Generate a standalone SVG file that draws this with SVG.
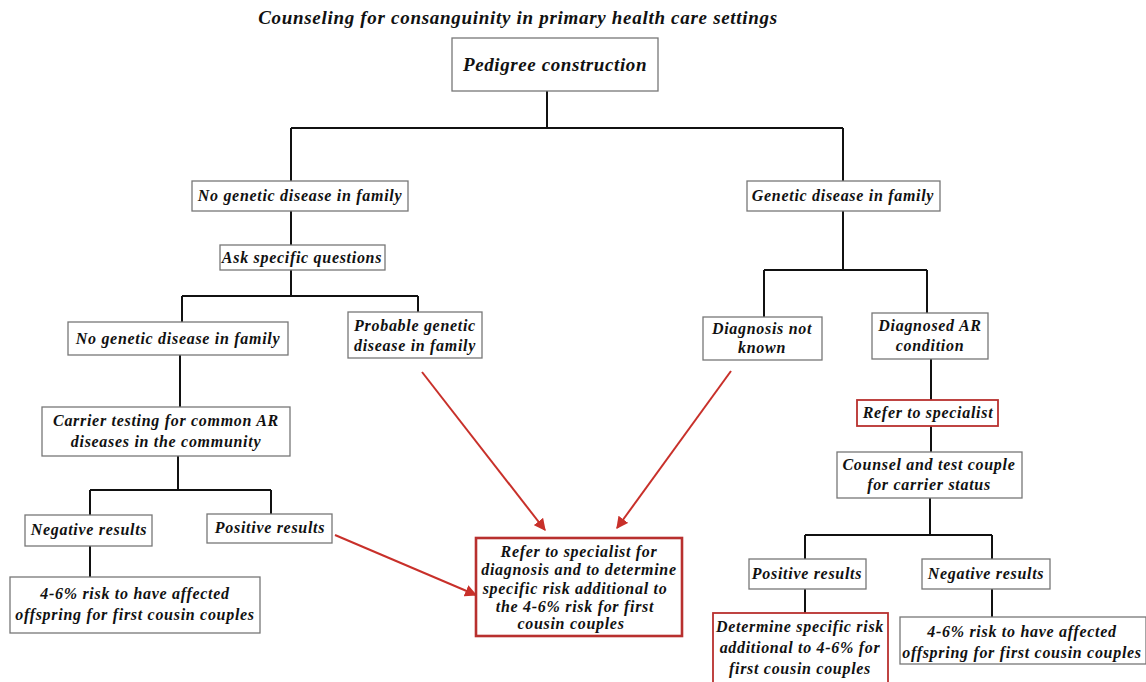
<svg xmlns="http://www.w3.org/2000/svg" width="1146" height="682" viewBox="0 0 1146 682">
<defs>
<style>
text{font-family:"Liberation Serif","Times New Roman",serif;font-weight:bold;font-style:italic;font-size:16px;letter-spacing:0.7px;fill:#111;text-anchor:middle}
.title{font-size:19px;letter-spacing:0.7px}
.big{font-size:19px;letter-spacing:0.6px}
.box{fill:#fff;stroke:#777;stroke-width:1.3}
.rbox{fill:#fff;stroke:#b8302e;stroke-width:1.8}
.rbox2{fill:#fff;stroke:#b8302e;stroke-width:2.6}
.ln{fill:none;stroke:#111;stroke-width:2}
.ar{fill:none;stroke:#c8302a;stroke-width:2;marker-end:url(#ah)}
</style>
<marker id="ah" viewBox="0 0 10 10" refX="9" refY="5" markerWidth="6" markerHeight="6" orient="auto" markerUnits="strokeWidth">
<path d="M0,0 L10,5 L0,10 z" fill="#c8302a"/>
</marker>
</defs>
<rect width="1146" height="682" fill="#fff"/>
<text class="title" x="518" y="24">Counseling for consanguinity in primary health care settings</text>

<g id="connectors">
<path class="ln" d="M547,91 V128 M291,128 H843 M291,128 V181 M843,128 V181"/>
<path class="ln" d="M291,211 V245 M291,270 V296 M182,296 H418 M182,296 V322 M418,296 V312"/>
<path class="ln" d="M843,211 V270 M764,270 H927 M764,270 V317 M927,270 V313"/>
<path class="ln" d="M180,355 V407 M178,456 V490 M90,490 H271 M90,490 V515 M271,490 V514 M90,546 V577"/>
<path class="ln" d="M931,359 V400 M931,426 V452 M930,498 V535 M805,535 H992 M805,535 V559 M992,535 V559 M805,589 V613 M992,589 V617"/>
<path class="ar" d="M422,372 L545,530"/>
<path class="ar" d="M731,371 L617,528"/>
<path class="ar" d="M335,535 L476,595"/>
</g>

<g id="n-pedigree"><rect class="box" x="452" y="38" width="206" height="53"/><text class="big" x="555" y="71">Pedigree construction</text></g>
<g id="n-nogen1"><rect class="box" x="192" y="181" width="216" height="30"/><text x="300" y="201">No genetic disease in family</text></g>
<g id="n-gen"><rect class="box" x="747" y="181" width="193" height="30"/><text x="843" y="201">Genetic disease in family</text></g>
<g id="n-ask"><rect class="box" x="220" y="245" width="165" height="25"/><text x="302" y="263">Ask specific questions</text></g>
<g id="n-nogen2"><rect class="box" x="68" y="322" width="220" height="33"/><text x="178" y="344">No genetic disease in family</text></g>
<g id="n-probable"><rect class="box" x="348" y="312" width="134" height="46"/><text x="415" y="331">Probable genetic</text><text x="415" y="351">disease in family</text></g>
<g id="n-diagunk"><rect class="box" x="703" y="317" width="119" height="43"/><text x="762" y="334">Diagnosis not</text><text x="762" y="353">known</text></g>
<g id="n-diagar"><rect class="box" x="872" y="313" width="116" height="46"/><text x="930" y="331">Diagnosed AR</text><text x="930" y="351">condition</text></g>
<g id="n-carrier"><rect class="box" x="42" y="407" width="248" height="49"/><text x="166" y="426">Carrier testing for common AR</text><text x="166" y="447">diseases in the community</text></g>
<g id="n-refer1"><rect class="rbox" x="857" y="400" width="141" height="26"/><text x="928" y="418">Refer to specialist</text></g>
<g id="n-counsel"><rect class="box" x="837" y="452" width="185" height="46"/><text x="929" y="470">Counsel and test couple</text><text x="929" y="490">for carrier status</text></g>
<g id="n-neg1"><rect class="box" x="25" y="515" width="127" height="31"/><text x="89" y="535">Negative results</text></g>
<g id="n-pos1"><rect class="box" x="207" y="514" width="125" height="29"/><text x="270" y="533">Positive results</text></g>
<g id="n-risk1"><rect class="box" x="10" y="577" width="250" height="56"/><text x="135" y="599">4-6% risk to have affected</text><text x="135" y="620">offspring for first cousin couples</text></g>
<g id="n-referc"><rect class="rbox2" x="476" y="538" width="206" height="98"/><text x="579" y="557">Refer to specialist for</text><text x="579" y="575">diagnosis and to determine</text><text x="575" y="594">specific risk additional to</text><text x="575" y="612">the 4-6% risk for first</text><text x="571" y="629">cousin couples</text></g>
<g id="n-pos2"><rect class="box" x="749" y="559" width="117" height="30"/><text x="807" y="579">Positive results</text></g>
<g id="n-neg2"><rect class="box" x="922" y="559" width="128" height="30"/><text x="986" y="579">Negative results</text></g>
<g id="n-determine"><rect class="rbox" x="713" y="613" width="175" height="72"/><text x="800" y="632">Determine specific risk</text><text x="800" y="653">additional to 4-6% for</text><text x="800" y="674">first cousin couples</text></g>
<g id="n-risk2"><rect class="box" x="900" y="617" width="246" height="47"/><text x="1022" y="637">4-6% risk to have affected</text><text x="1022" y="658">offspring for first cousin couples</text></g>
</svg>
